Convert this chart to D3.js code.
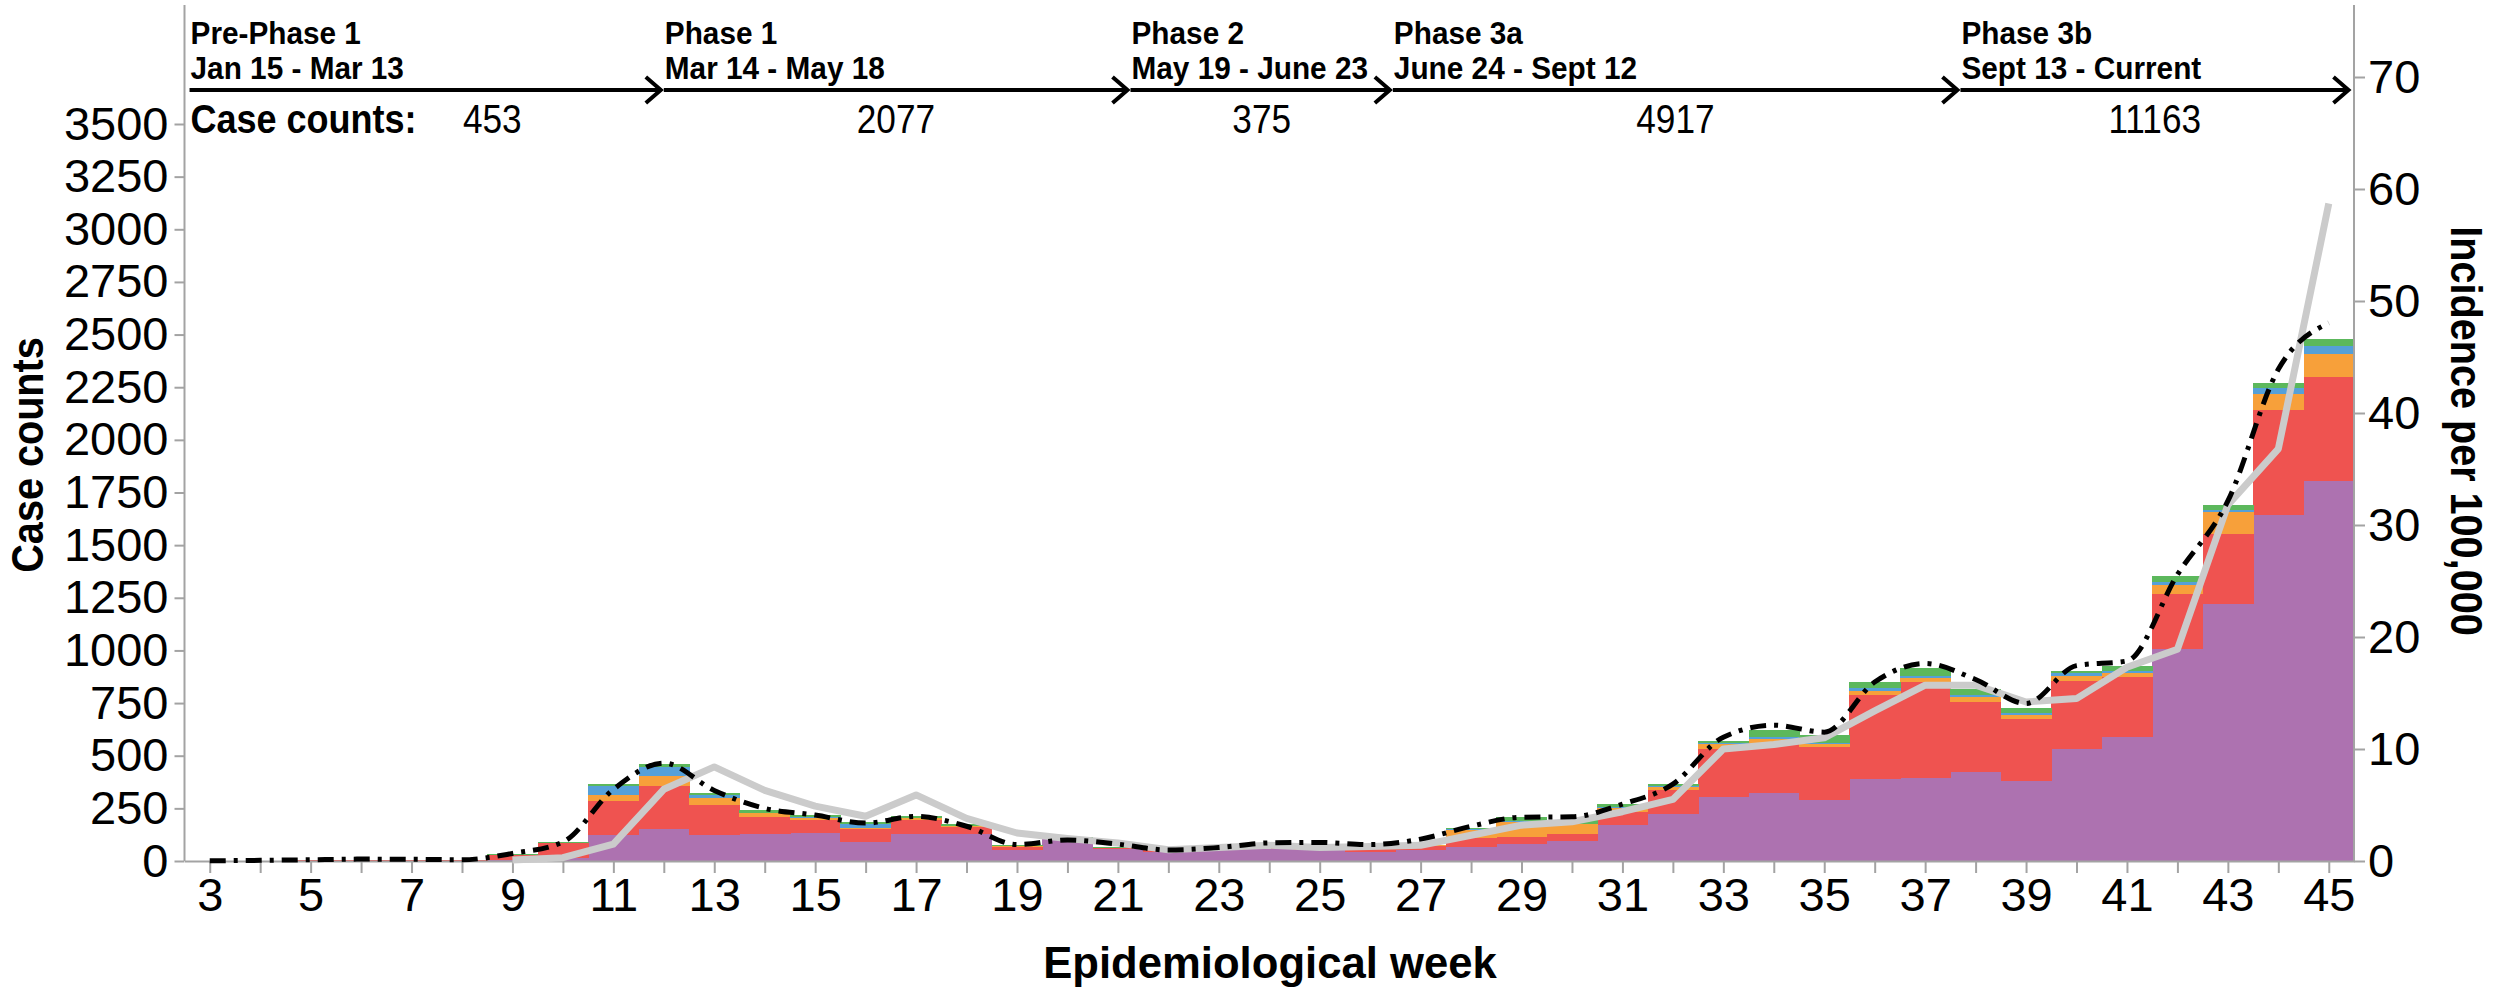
<!DOCTYPE html>
<html><head><meta charset="utf-8">
<script src="https://cdn.jsdelivr.net/npm/d3@7"></script>
<style>
body{margin:0;background:#fff}
svg{display:block}
text{font-family:"Liberation Sans",Arial,Helvetica,sans-serif;fill:#000}
</style>
</head><body>
<svg id="c" width="2494" height="995"></svg>
<script>
// ---------- DATA ----------
const weeks = [3,4,5,6,7,8,9,10,11,12,13,14,15,16,17,18,19,20,21,22,23,24,25,26,27,28,29,30,31,32,33,34,35,36,37,38,39,40,41,42,43,44,45];
const seriesKeys = ["groupA","groupB","groupC","groupD","groupE"];
const groupA = [0,1,1,2,1,1,5,12, 125,150,123,128,131,92,130,127,52,105, 58,45,52,55,53,43,50,66,80,95, 173,225,305,321,290,388,393,425,378,531, 589,1005,1222,1644,1804];
const groupB = [1,1,2,2,2,2,25,72, 160,205,143,82,64,60,65,36,16,5, 6,5,6,10,8,18,22,42,32,33, 60,112,225,241,250,402,457,330,294,325, 283,263,331,499,496];
const groupC = [0,0,0,0,0,0,0,0, 30,51,34,16,11,6,7,2,5,1, 0,0,0,0,0,0,2,38,75,46, 17,13,24,18,14,16,18,23,23,24, 19,45,103,73,108];
const groupD = [0,0,0,0,0,0,0,3, 40,42,13,4,4,16,4,3,0,0, 0,0,0,0,0,0,0,4,3,4, 5,5,6,10,6,14,12,12,10,13, 9,12,9,30,38];
const groupE = [0,0,0,0,0,0,2,5, 12,11,8,12,8,10,6,6,2,1, 1,0,0,0,0,0,0,7,19,17, 17,13,10,30,36,28,36,28,23,11, 25,29,25,24,34];
// dash-dot line (case counts, left axis)
const trendCounts = [1,3,6,9,8,6,36,90, 340,465,335,250,218,180,212,165,78,100, 80,52,64,86,88,78,104,165,208,210, 270,365,588,645,612,850,938,862,748,928, 950,1360,1710,2335,2555];
// grey line (incidence per 100,000, right axis)
const incidence = [null,null,null,null,null,null,0.1,0.3, 1.5,6.4,8.4,6.3,4.9,4.0,5.9,3.8,2.5,2.0, 1.6,1.0,1.2,1.4,1.2,1.3,1.4,2.3,3.2,3.5, 4.4,5.5,10.0,10.4,11.0,13.4,15.7,15.7,14.2,14.5, 17.3,18.9,31.8,36.8,58.7];
const leftTicks = [0,250,500,750,1000,1250,1500,1750,2000,2250,2500,2750,3000,3250,3500];
const rightTicks = [0,10,20,30,40,50,60,70];
const phaseNames = ["Pre-Phase 1","Phase 1","Phase 2","Phase 3a","Phase 3b"];
const phaseDates = ["Jan 15 - Mar 13","Mar 14 - May 18","May 19 - June 23","June 24 - Sept 12","Sept 13 - Current"];
const phaseCases = [453,2077,375,4917,11163];
const phaseStartWeek = [2.6,12.0,21.25,26.45,37.7];
const phaseEndWeek = 45.45;

// ---------- LAYOUT ----------
const caseLabelWeek = [8.6,16.6,23.85,32.05,41.55];
const colors = ["#ad72b0","#ef5350","#f7a03a","#55a0d8","#5cb85c"];
const axisGrey = "#a3a3a3";

function condense(sel, f){
  sel.each(function(){
    const w = this.getComputedTextLength();
    d3.select(this).attr("textLength", w*f).attr("lengthAdjust","spacingAndGlyphs");
  });
  return sel;
}

const svg = d3.select("#c");
svg.append("rect").attr("width",2494).attr("height",995).attr("fill","#fff");

const x = d3.scaleLinear().domain([2.5,45.5]).range([184.5,2354]);
const yL = d3.scaleLinear().domain([0,3500]).range([861,124]);
const yR = d3.scaleLinear().domain([0,70]).range([861,77]);

// bars
const seriesArrays = [groupA,groupB,groupC,groupD,groupE];
const rows = weeks.map((w,i)=>{const r={week:w}; seriesKeys.forEach((k,j)=>r[k]=seriesArrays[j][i]); return r;});
const stacked = d3.stack().keys(seriesKeys)(rows);
svg.append("g").selectAll("g").data(stacked).join("g")
  .attr("fill",(d,i)=>colors[i])
  .selectAll("rect").data(d=>d).join("rect")
  .attr("shape-rendering","crispEdges")
  .attr("x",d=>x(d.data.week-0.5))
  .attr("width",d=>x(d.data.week+0.5)-x(d.data.week-0.5)+0.6)
  .attr("y",d=>yL(d[1]))
  .attr("height",d=>Math.max(0,yL(d[0])-yL(d[1])));

// axes
const gx = svg.append("g").attr("transform","translate(0,861)")
  .call(d3.axisBottom(x).tickValues(weeks).tickSize(12).tickSizeOuter(0).tickPadding(5)
    .tickFormat(d=>d%2===1?d:""));
const gl = svg.append("g").attr("transform","translate(184.5,0)")
  .call(d3.axisLeft(yL).tickValues(leftTicks).tickSize(10).tickPadding(6).tickSizeOuter(0).tickFormat(d3.format("d")));
const gr = svg.append("g").attr("transform","translate(2354,0)")
  .call(d3.axisRight(yR).tickValues(rightTicks).tickSize(11).tickPadding(3).tickSizeOuter(0).tickFormat(d3.format("d")));
[gx,gl,gr].forEach(g=>{
  g.attr("font-size",47).attr("font-family",'"Liberation Sans",Arial,sans-serif');
  g.selectAll("path.domain").attr("stroke",axisGrey).attr("stroke-width",2);
  g.selectAll(".tick line").attr("stroke",axisGrey).attr("stroke-width",2);
  g.selectAll(".tick text").attr("font-size",47).attr("fill","#000");
});
gl.select("path.domain").remove(); gr.select("path.domain").remove();
svg.append("line").attr("x1",184.5).attr("x2",184.5).attr("y1",5).attr("y2",861).attr("stroke",axisGrey).attr("stroke-width",2);
svg.append("line").attr("x1",2354).attr("x2",2354).attr("y1",5).attr("y2",861).attr("stroke",axisGrey).attr("stroke-width",2);

// grey incidence line
svg.append("path").datum(incidence.map((v,i)=>[weeks[i],v]))
  .attr("fill","none").attr("stroke","#cbcbcb").attr("stroke-width",7).attr("stroke-linejoin","round")
  .attr("d",d3.line().defined(d=>d[1]!=null).x(d=>x(d[0])).y(d=>yR(d[1])));

// dash-dot trend line
svg.append("path").datum(trendCounts.map((v,i)=>[weeks[i],v]))
  .attr("fill","none").attr("stroke","#000").attr("stroke-width",5)
  .attr("stroke-dasharray","16,8,4,8")
  .attr("d",d3.line().curve(d3.curveMonotoneX).x(d=>x(d[0])).y(d=>yL(d[1])));

// phase header
const hdr = svg.append("g");
phaseNames.forEach((name,i)=>{
  const x0 = x(phaseStartWeek[i]);
  const tip = (i<phaseNames.length-1 ? x(phaseStartWeek[i+1]) : x(phaseEndWeek)) - 3;
  hdr.append("line").attr("x1",x0).attr("x2",tip).attr("y1",90).attr("y2",90)
    .attr("stroke","#000").attr("stroke-width",4);
  hdr.append("path").attr("d",`M${tip-15},77 L${tip},90 L${tip-15},103`)
    .attr("fill","none").attr("stroke","#000").attr("stroke-width",4);
  condense(hdr.append("text").attr("x",x0+1).attr("y",44).attr("font-size",32).attr("font-weight","bold").text(name),0.93);
  condense(hdr.append("text").attr("x",x0+1).attr("y",79).attr("font-size",32).attr("font-weight","bold").text(phaseDates[i]),0.93);
  condense(hdr.append("text").attr("x",x(caseLabelWeek[i])).attr("y",133).attr("font-size",40)
    .attr("text-anchor","middle").text(phaseCases[i]),0.88);
});
condense(hdr.append("text").attr("x",x(phaseStartWeek[0])+1).attr("y",133).attr("font-size",40)
  .attr("font-weight","bold").text("Case counts:"),0.9);

// axis titles
condense(svg.append("text").attr("transform","translate(43,455) rotate(-90)").attr("text-anchor","middle")
  .attr("font-size",44).attr("font-weight","bold").text("Case counts"),0.9);
condense(svg.append("text").attr("transform","translate(2451,431) rotate(90)").attr("text-anchor","middle")
  .attr("font-size",44).attr("font-weight","bold").text("Incidence per 100,000"),0.9);
condense(svg.append("text").attr("x",1270).attr("y",978).attr("text-anchor","middle")
  .attr("font-size",45).attr("font-weight","bold").text("Epidemiological week"),0.97);
</script>
</body></html>
